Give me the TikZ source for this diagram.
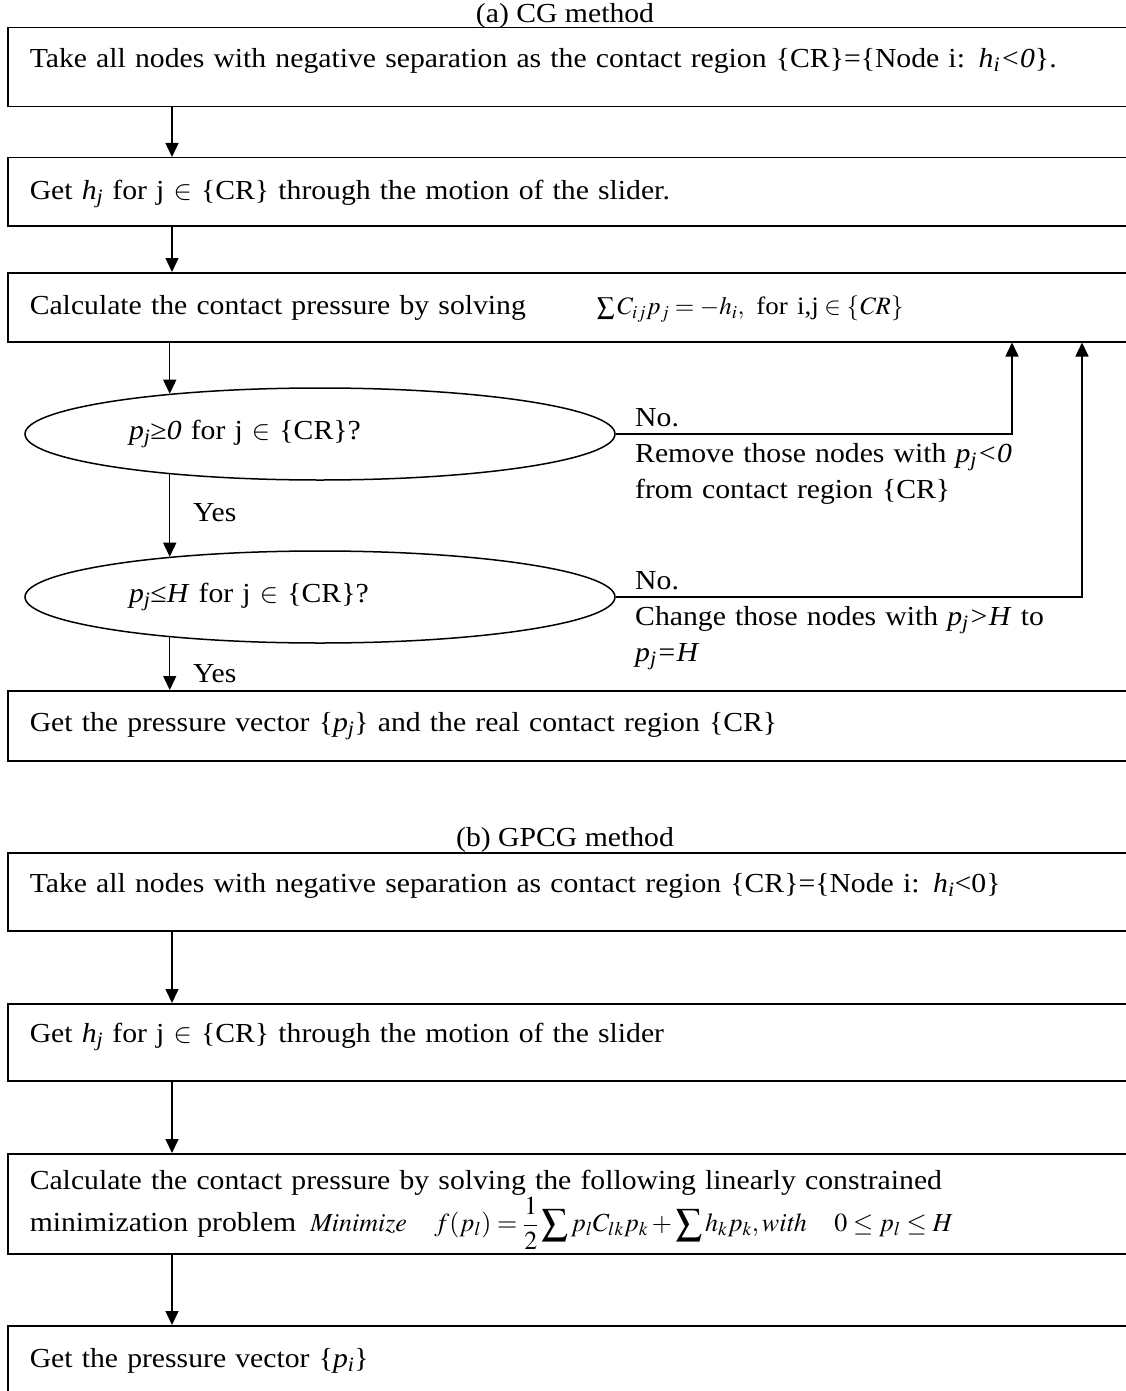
\documentclass[tikz,border=0pt]{standalone}
\usepackage{mathptmx}
\usepackage{fontspec}
\setmainfont{Liberation Serif}[FakeStretch=1.08]
\usepackage{tikz}
\usetikzlibrary{shapes.geometric, arrows.meta, positioning, calc}
\newcommand{\vsub}[2]{\textit{#1}\textsubscript{\textit{#2}}}

\begin{document}
\begin{tikzpicture}[
  x=1pt, y=-1pt,
  font=\fontsize{27.5}{36}\selectfont,
  stepbox/.style={draw, line width=1.5pt, anchor=north west, text width=1100pt, align=left, inner xsep=22pt, inner ysep=0pt},
  testellipse/.style={draw, ellipse, line width=1.5pt, minimum width=590pt, minimum height=92pt, inner sep=0pt, text width=382pt, align=left},
  notelabel/.style={anchor=base west, inner sep=0pt, text width=480pt, align=left},
  arrowstyle/.style={-{Triangle[length=14pt, width=13pt]}, line width=1.5pt}
  ]
  \useasboundingbox (0,0) rectangle (1126,1391);
  \clip (0,0) rectangle (1126,1391);
  \coordinate (spine) at (172,0);
  \coordinate (back1) at (1012,0);
  \coordinate (back2) at (1082,0);
  % (a) CG method
  \node (titlea) at (565,16) {(a) CG method};
  \node[stepbox, text height=40pt, text depth=39pt] (a1) at (7,27) {Take all nodes with negative separation as the contact region \{CR\}=\{Node i: \vsub{h}{i}\textit{<0}\}.};
  \node[stepbox, text height=42pt, text depth=26pt] (a2) at (7,157) {Get \vsub{h}{j} for j $\in$ \{CR\} through the motion of the slider.};
  \node[stepbox, text height=42pt, text depth=27pt] (a3) at (7,272) {\makebox[567pt][l]{Calculate the contact pressure by solving}{\fontsize{25}{30}\selectfont$\sum C_{ij}p_j=-h_i,\ \mbox{for i,j}\in\{\mathit{CR}\}$}};
  % checks
  \node[testellipse] (e1) at (320,434) {\vsub{p}{j}≥\textit{0} for j $\in$ \{CR\}?};
  \node[testellipse] (e2) at (320,597) {\vsub{p}{j}≤\textit{H} for j $\in$ \{CR\}?};
  \node[stepbox, text height=41pt, text depth=29pt] (a4) at (7,690) {Get the pressure vector \{\vsub{p}{j}\} and the real contact region \{CR\}};
  % labels
  \node[notelabel] (no1) at (635,426) {No.\\Remove those nodes with \vsub{p}{j}\textit{<0}\\from contact region \{CR\}};
  \node[notelabel] (no2) at (635,589) {No.\\Change those nodes with \vsub{p}{j}\textit{>H} to\\\vsub{p}{j}\textit{=H}};
  \node[anchor=base west, inner sep=0pt] (yes1) at (193,521) {Yes};
  \node[anchor=base west, inner sep=0pt] (yes2) at (193,682) {Yes};
  % Arrows
  \draw[arrowstyle] (a1.south -| spine) -- (a2.north -| spine);
  \draw[arrowstyle] (a2.south -| spine) -- (a3.north -| spine);
  \draw[arrowstyle] (a3.south -| e1.165) -- (e1.165);
  \draw[arrowstyle] (e1.195) -- (e2.165);
  \draw[arrowstyle] (e2.195) -- (e2.195 |- a4.north);
  \draw[arrowstyle] (e1.east) -| (a3.south -| back1);
  \draw[arrowstyle] (e2.east) -| (a3.south -| back2);

  % (b) GPCG method
  \node (titleb) at (565,840) {(b) GPCG method};
  \node[stepbox, text height=40pt, text depth=38pt] (b1) at (7,852) {Take all nodes with negative separation as contact region \{CR\}=\{Node i: \vsub{h}{i}<0\}};
  \node[stepbox, text height=39pt, text depth=38pt] (b2) at (7,1003) {Get \vsub{h}{j} for j $\in$ \{CR\} through the motion of the slider};
  \node[stepbox, text height=36pt, text depth=64pt] (b3) at (7,1153) {Calculate the contact pressure by solving the following linearly constrained\\minimization problem\hspace{14pt}{\fontsize{26}{28}\selectfont$\displaystyle \mathit{Minimize}\ \ \ f(p_l)=\frac{1}{2}\sum p_lC_{lk}p_k+\sum h_kp_k,\mathit{with}\ \ \ 0\le p_l\le H$}};
  \node[stepbox, text height=42pt, text depth=40pt] (b4) at (7,1325) {Get the pressure vector \{\vsub{p}{i}\}};
  % Arrows
  \draw[arrowstyle] (b1.south -| spine) -- (b2.north -| spine);
  \draw[arrowstyle] (b2.south -| spine) -- (b3.north -| spine);
  \draw[arrowstyle] (b3.south -| spine) -- (b4.north -| spine);
\end{tikzpicture}
\end{document}
